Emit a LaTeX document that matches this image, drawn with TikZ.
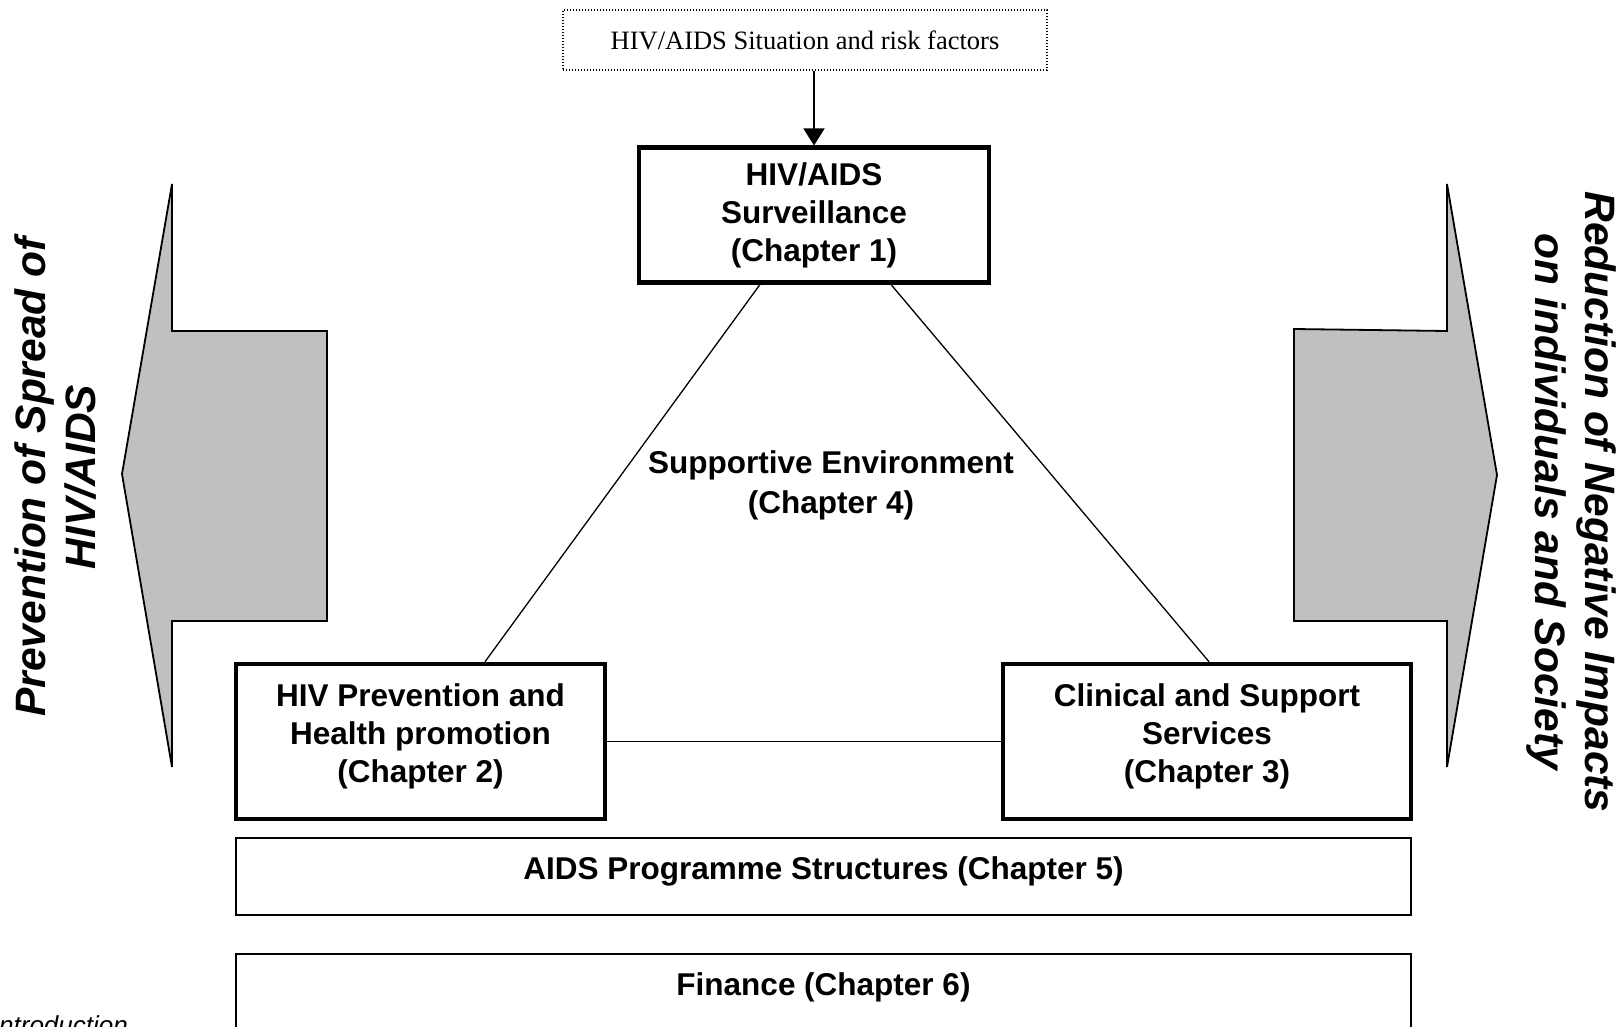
\documentclass[tikz,border=0pt]{standalone}
\usepackage{fontspec}
\setmainfont{Liberation Serif}
\setsansfont{Liberation Sans}
\usetikzlibrary{arrows.meta}
\newcommand{\lowstrut}{\rule[-17pt]{0pt}{1pt}}

\begin{document}
\begin{tikzpicture}[x=1pt,y=1pt,yscale=-1,xscale=1,
  chapbox/.style={draw,line width=4.5pt,align=center,font=\sffamily\bfseries\fontsize{31.5}{38}\selectfont},
  widebox/.style={draw,line width=1.5pt,minimum width=1175pt,inner ysep=10pt,text height=32pt,font=\sffamily\bfseries\fontsize{31.5}{38}\selectfont},
  sidetext/.style={align=center,font=\sffamily\bfseries\itshape\fontsize{42.5}{50}\selectfont},
  bigarrow/.style={draw,line width=1.8pt,fill={rgb,255:red,192;green,192;blue,192}},
  thinline/.style={line width=1.3pt}]
\useasboundingbox (0,0) rectangle (1620,1027);

%Shape: Polygon [left arrow]
\draw [bigarrow] (172,184) -- (122,474) -- (172,767) -- (172,621) -- (327,621) -- (327,331) -- (172,331) -- cycle ;
%Shape: Polygon [right arrow]
\draw [bigarrow] (1447,184) -- (1497,475) -- (1447,767) -- (1447,621) -- (1294,621) -- (1294,329) -- (1447,331) -- cycle ;

% Text Node
\node [draw,line width=1.2pt,dash pattern={on 1.2pt off 1.8pt},minimum width=484pt,minimum height=60pt,font=\fontsize{26.5}{30}\selectfont] (situation) at (805,40) {HIV/AIDS Situation and risk factors};
% Text Node
\node [chapbox,minimum width=350pt,minimum height=134.5pt] (surv) at (814,215) {HIV/AIDS\\Surveillance\\(Chapter 1)};
% Text Node
\node [chapbox,minimum width=369pt,minimum height=155pt] (prev) at (420.5,741.5) {HIV Prevention and\\Health promotion\\(Chapter 2)\lowstrut};
% Text Node
\node [chapbox,minimum width=408pt,minimum height=155pt] (clin) at (1207,741.5) {Clinical and Support\\Services\\(Chapter 3)\lowstrut};
% Text Node
\node [align=center,font=\sffamily\bfseries\fontsize{31.5}{40}\selectfont] (env) at (831,485) {Supportive Environment\\(Chapter 4)};
% Text Node
\node [widebox,text depth=25pt,anchor=north] (struct) at (823.5,837) {AIDS Programme Structures (Chapter 5)};
% Text Node
\node [widebox,text depth=45pt,anchor=north] (finance) at (823.5,953) {Finance (Chapter 6)};
% Text Node
\node [sidetext,rotate=90] (prevlabel) at (56,477) {Prevention of Spread of\\HIV/AIDS};
% Text Node
\node [sidetext,rotate=-90] (reduclabel) at (1571,502) {Reduction of Negative Impacts\\on individuals and Society};
% Text Node
\node [anchor=base west,inner sep=0pt,font=\sffamily\itshape\fontsize{26}{30}\selectfont] (intro) at (-1,1034) {ntroduction};

%Straight Lines
\draw [line width=1.3pt,-{Triangle[length=17pt,width=21pt]}] (situation.south -| surv.north) -- (surv.north) ;
%Straight Lines
\draw [thinline] ([xshift=-54pt]surv.south) -- ([xshift=64.5pt]prev.north) ;
\draw [thinline] ([xshift=77pt]surv.south) -- ([xshift=2pt]clin.north) ;
\draw [thinline] (prev.east) -- (clin.west) ;

\end{tikzpicture}
\end{document}
